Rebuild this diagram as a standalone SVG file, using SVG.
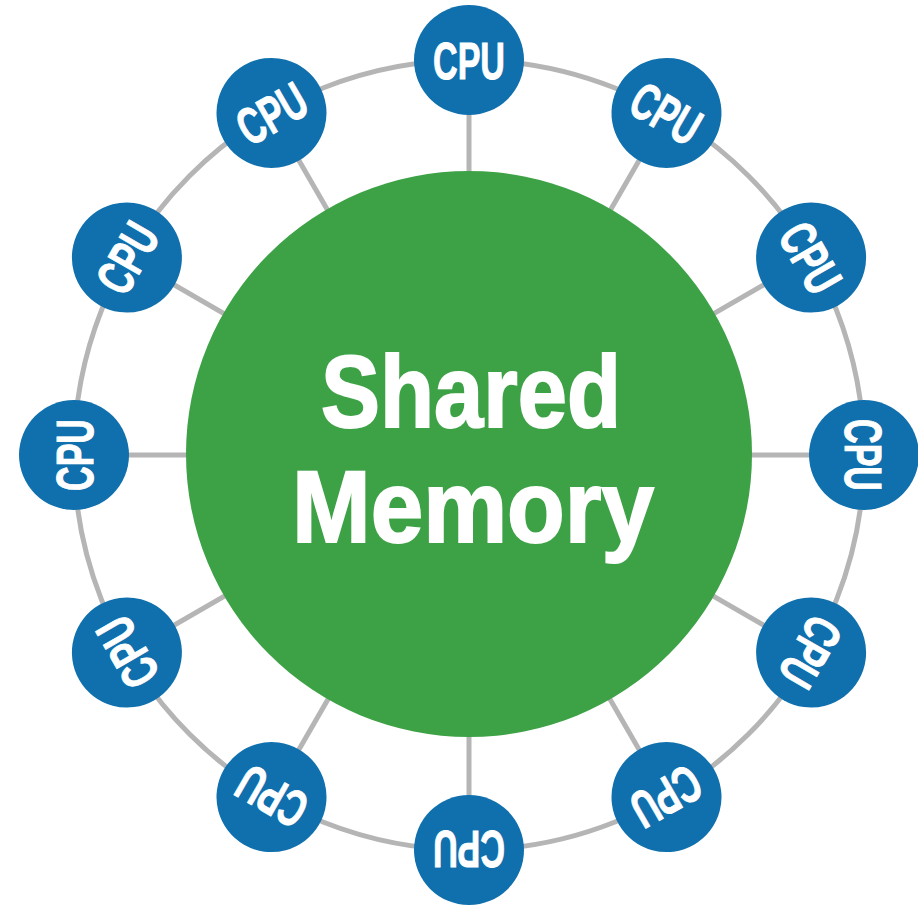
<svg xmlns="http://www.w3.org/2000/svg" width="918" height="907" viewBox="0 0 918 907">
  <style>
    .wire { stroke: #b5b5b5; stroke-width: 5; fill: none; }
    .cpu circle { fill: #1070ad; }
    .cpu text { font-family: "Liberation Sans", Arial, sans-serif; font-weight: bold; font-size: 52px; fill: #ffffff; stroke: #ffffff; stroke-width: 1; text-anchor: middle; }
    .mem circle { fill: #3da146; }
    .mem text { font-family: "Liberation Sans", Arial, sans-serif; font-weight: bold; font-size: 102px; fill: #ffffff; stroke: #ffffff; stroke-width: 2; text-anchor: middle; }
  </style>
  <rect width="918" height="907" fill="#ffffff"/>

  <!-- ring bus and spokes -->
  <g id="connectors">
    <circle class="wire" cx="469" cy="455" r="395"/>
    <line class="wire" x1="469" y1="455" x2="469" y2="60"/>
    <line class="wire" x1="469" y1="455" x2="666.5" y2="112.9"/>
    <line class="wire" x1="469" y1="455" x2="811.1" y2="257.5"/>
    <line class="wire" x1="469" y1="455" x2="864" y2="455"/>
    <line class="wire" x1="469" y1="455" x2="811.1" y2="652.5"/>
    <line class="wire" x1="469" y1="455" x2="666.5" y2="797.1"/>
    <line class="wire" x1="469" y1="455" x2="469" y2="850"/>
    <line class="wire" x1="469" y1="455" x2="271.5" y2="797.1"/>
    <line class="wire" x1="469" y1="455" x2="126.9" y2="652.5"/>
    <line class="wire" x1="469" y1="455" x2="74" y2="455"/>
    <line class="wire" x1="469" y1="455" x2="126.9" y2="257.5"/>
    <line class="wire" x1="469" y1="455" x2="271.5" y2="112.9"/>
  </g>

  <!-- central memory -->
  <g id="shared-memory" class="mem">
    <circle cx="469" cy="454" r="283"/>
    <text x="471" y="427" textLength="300" lengthAdjust="spacingAndGlyphs">Shared</text>
    <text x="473" y="542" textLength="362" lengthAdjust="spacingAndGlyphs">Memory</text>
  </g>

  <!-- processors, labels turned along the ring -->
  <g id="cpu-1" class="cpu" transform="translate(469,60)">
    <circle r="55"/><text y="19" textLength="72" lengthAdjust="spacingAndGlyphs">CPU</text>
  </g>
  <g id="cpu-2" class="cpu" transform="translate(666.5,112.9) rotate(30)">
    <circle r="55"/><text y="19" textLength="72" lengthAdjust="spacingAndGlyphs">CPU</text>
  </g>
  <g id="cpu-3" class="cpu" transform="translate(811.1,257.5) rotate(60)">
    <circle r="55"/><text y="19" textLength="72" lengthAdjust="spacingAndGlyphs">CPU</text>
  </g>
  <g id="cpu-4" class="cpu" transform="translate(864,455) rotate(90)">
    <circle r="55"/><text y="19" textLength="72" lengthAdjust="spacingAndGlyphs">CPU</text>
  </g>
  <g id="cpu-5" class="cpu" transform="translate(811.1,652.5) rotate(120)">
    <circle r="55"/><text y="19" textLength="72" lengthAdjust="spacingAndGlyphs">CPU</text>
  </g>
  <g id="cpu-6" class="cpu" transform="translate(666.5,797.1) rotate(150)">
    <circle r="55"/><text y="19" textLength="72" lengthAdjust="spacingAndGlyphs">CPU</text>
  </g>
  <g id="cpu-7" class="cpu" transform="translate(469,850) rotate(180)">
    <circle r="55"/><text y="19" textLength="72" lengthAdjust="spacingAndGlyphs">CPU</text>
  </g>
  <g id="cpu-8" class="cpu" transform="translate(271.5,797.1) rotate(210)">
    <circle r="55"/><text y="19" textLength="72" lengthAdjust="spacingAndGlyphs">CPU</text>
  </g>
  <g id="cpu-9" class="cpu" transform="translate(126.9,652.5) rotate(240)">
    <circle r="55"/><text y="19" textLength="72" lengthAdjust="spacingAndGlyphs">CPU</text>
  </g>
  <g id="cpu-10" class="cpu" transform="translate(74,455) rotate(270)">
    <circle r="55"/><text y="19" textLength="72" lengthAdjust="spacingAndGlyphs">CPU</text>
  </g>
  <g id="cpu-11" class="cpu" transform="translate(126.9,257.5) rotate(300)">
    <circle r="55"/><text y="19" textLength="72" lengthAdjust="spacingAndGlyphs">CPU</text>
  </g>
  <g id="cpu-12" class="cpu" transform="translate(271.5,112.9) rotate(330)">
    <circle r="55"/><text y="19" textLength="72" lengthAdjust="spacingAndGlyphs">CPU</text>
  </g>
</svg>
